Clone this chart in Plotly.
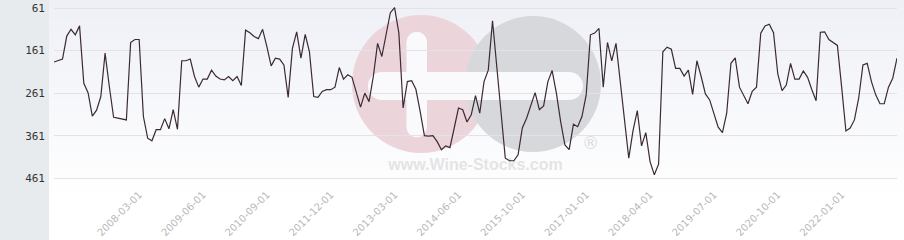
import plotly.graph_objects as go
import pandas as pd

# ---- data ----
months = [d.strftime("%Y-%m-%d") for d in pd.date_range("2006-07-01", "2023-02-01", freq="MS")]
months.remove("2015-01-01")  # one month absent from the series
dates = months

ranks = [188, 185, 181, 127, 111, 124, 103, 238, 260, 315,
         301, 269, 167, 246, 318, 320, 322, 324, 142, 135,
         135, 316, 367, 373, 347, 347, 321, 345, 300, 346,
         185, 185, 181, 222, 247, 228, 228, 207, 221, 228,
         230, 222, 232, 222, 243, 113, 119, 128, 133, 111,
         152, 197, 179, 181, 195, 271, 156, 117, 179, 123,
         164, 269, 271, 257, 253, 253, 247, 201, 228, 218,
         224, 257, 294, 261, 281, 222, 144, 175, 120, 72,
         60, 120, 296, 234, 232, 252, 304, 361, 362, 361,
         375, 394, 385, 389, 343, 296, 300, 329, 312, 267,
         308, 234, 207, 91, 199, 312, 414, 420, 420, 406,
         343, 320, 291, 260, 300, 291, 234, 208, 261, 328,
         383, 394, 334, 340, 316, 265, 124, 120, 109, 247,
         142, 185, 144, 238, 328, 414, 349, 302, 385, 354,
         422, 453, 428, 164, 153, 158, 203, 203, 221, 207,
         264, 185, 222, 263, 277, 308, 341, 354, 308, 191,
         178, 247, 267, 286, 257, 247, 120, 103, 99, 119,
         216, 255, 242, 191, 228, 228, 209, 224, 253, 279,
         118, 117, 135, 142, 149, 247, 350, 343, 324, 273,
         195, 191, 234, 265, 286, 286, 247, 226, 179]

x_ticks = ["2008-03-01", "2009-06-01", "2010-09-01", "2011-12-01", "2013-03-01",
           "2014-06-01", "2015-10-01", "2017-01-01", "2018-04-01", "2019-07-01",
           "2020-10-01", "2022-01-01"]
y_ticks = [61, 161, 261, 361, 461]

# ---- layout geometry ----
WIDTH, HEIGHT = 904, 240
L, R, T, B = 54, 7, 0, 60
PW, PH = WIDTH - L - R, HEIGHT - T - B
Y_TOP, Y_BOT = 42.2, 465.2


def px(p):
    return (p - L) / PW


def py(p):
    return 1 - (p - T) / PH


def data_y(p):
    return Y_TOP + (Y_BOT - Y_TOP) * (p - T) / PH


def cat_at(p):
    return dates[round((p - L) / PW * (len(dates) - 1))]


shapes = []
# vertical gradient background
n_bands = 30
top_c, bot_c = (238, 240, 246), (255, 255, 255)
for i in range(n_bands):
    f = i / (n_bands - 1)
    c = tuple(round(top_c[k] + (bot_c[k] - top_c[k]) * f) for k in range(3))
    y0 = i * 200 / n_bands
    y1 = (i + 1) * 200 / n_bands + 0.5
    shapes.append(dict(type="rect", xref="paper", yref="paper", layer="below",
                       x0=px(49), x1=px(WIDTH), y0=py(y1), y1=py(y0),
                       fillcolor="rgb(%d,%d,%d)" % c, line=dict(width=0)))
# left gray panel
shapes.append(dict(type="rect", xref="paper", yref="paper", layer="below",
                   x0=px(0), x1=px(49), y0=py(HEIGHT), y1=py(0),
                   fillcolor="#e8ebee", line=dict(width=0)))


def circle(cx, cy, r, color):
    return dict(type="circle", xref="paper", yref="paper", layer="below",
                x0=px(cx - r), x1=px(cx + r), y0=py(cy + r), y1=py(cy - r),
                fillcolor=color, line=dict(width=0))


def rect(x0, x1, y0, y1, color):
    return dict(type="rect", xref="paper", yref="paper", layer="below",
                x0=px(x0), x1=px(x1), y0=py(y1), y1=py(y0),
                fillcolor=color, line=dict(width=0))


pink, grey, white = "#ebd5db", "#d7d8db", "#fafafc"
shapes.append(circle(421, 84, 69, pink))
shapes.append(circle(533, 84, 68, grey))
# horizontal white band (plus bar + minus bar)
shapes.append(rect(382, 569, 72, 100, white))
shapes.append(circle(382, 86, 14, white))
shapes.append(circle(569, 86, 14, white))
# vertical white bar of the plus
shapes.append(rect(406.5, 427, 42, 127, white))
shapes.append(circle(416.75, 42, 10.25, white))
shapes.append(circle(416.75, 127, 10.25, white))

fig = go.Figure()
# watermark texts (drawn beneath the line)
fig.add_trace(go.Scatter(x=[cat_at(477)], y=[data_y(166)], mode="text",
                         text=["www.Wine-Stocks.com"], textposition="middle center",
                         textfont=dict(family="Liberation Sans, Arial", size=16,
                                       color="#e4e4e6", weight="bold"),
                         hoverinfo="skip"))
fig.add_trace(go.Scatter(x=[cat_at(591)], y=[data_y(145)], mode="text",
                         text=["®"], textposition="middle center",
                         textfont=dict(family="DejaVu Sans", size=17, color="#dcdcde"),
                         hoverinfo="skip"))
fig.add_trace(go.Scatter(x=dates, y=ranks, mode="lines",
                         line=dict(color="#3b2a33", width=1.2),
                         hoverinfo="x+y"))

fig.update_layout(
    width=WIDTH, height=HEIGHT,
    margin=dict(l=L, r=R, t=T, b=B),
    paper_bgcolor="white", plot_bgcolor="rgba(0,0,0,0)",
    showlegend=False,
    shapes=shapes,
    xaxis=dict(type="category", categoryorder="array", categoryarray=dates,
               range=[0, len(dates) - 1],
               tickmode="array", tickvals=x_ticks, ticktext=x_ticks,
               tickangle=-45, showgrid=False, zeroline=False, showline=False,
               ticks="", ticklabelstandoff=6,
               tickfont=dict(family="DejaVu Sans", size=10, color="#b8b8b8")),
    yaxis=dict(range=[Y_BOT, Y_TOP], tickmode="array", tickvals=y_ticks,
               showgrid=True, gridcolor="#e2e2e8", gridwidth=1, zeroline=False,
               showline=False, ticks="", ticklabelstandoff=8,
               tickfont=dict(family="DejaVu Sans Mono", size=11, color="#333333")),
)

fig.write_html("out.html")
